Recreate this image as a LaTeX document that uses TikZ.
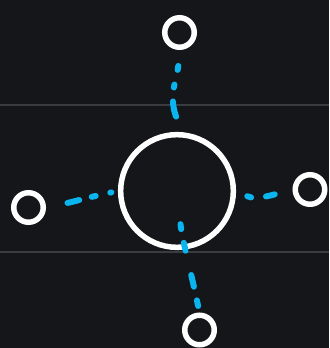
\documentclass[tikz,border=0pt]{standalone}
\usetikzlibrary{arrows.meta}
\usetikzlibrary{positioning}

\definecolor{bgdark}{RGB}{20,22,25}
\definecolor{rulegray}{RGB}{58,60,63}
\definecolor{linkblue}{RGB}{10,180,238}

\begin{document}
\begin{tikzpicture}[
    x=0.03cm, y=-0.03cm,
    hub/.style={circle, draw=white, line width=0.165cm, minimum size=3.38cm, inner sep=0pt},
    leaf/.style={circle, draw=white, line width=0.165cm, minimum size=0.885cm, inner sep=0pt},
    rule/.style={draw=rulegray, line width=0.06cm},
    link/.style={draw=linkblue, line width=0.18cm, line cap=round}
]

% Background
\fill[bgdark] (0,0) rectangle (329,348);
\useasboundingbox (0,0) rectangle (329,348);
\coordinate (ruleAL) at (0,105);
\coordinate (ruleAR) at (329,105);
\coordinate (ruleBL) at (0,252);
\coordinate (ruleBR) at (329,252);
\draw[rule] (ruleAL) -- (ruleAR);
\draw[rule] (ruleBL) -- (ruleBR);

% Nodes
\node (center) [hub] at (177,191) {};
\node (top) [leaf] at (179.5,32.5) {};
\node (left) [leaf] at (28.5,207.5) {};
\node (right) [leaf] at (310,189.5) {};
\node (bottom) [leaf] at (199.5,330) {};

% Links
\draw [link, shorten <=0.48cm, shorten >=0.5cm,
       dash pattern=on 0.12cm off 0.45cm on 0.09cm off 0.42cm on 0.9cm]
  (top.south) .. controls +(-2,26) and +(-14,-36) .. (center.85);
\draw [link, shorten <=0.66cm, shorten >=0.2cm,
       dash pattern=on 0.36cm off 0.39cm on 0.12cm off 0.45cm on 0.3cm]
  (left.east) to[out=12, in=192] (center.west);
\draw [link, shorten <=0.37cm, shorten >=0.31cm,
       dash pattern=on 0.12cm off 0.45cm on 0.27cm off 0.27cm on 0.3cm]
  (center.east) to[out=-25, in=195] (right.west);
\draw [link, shorten <=1.0cm, shorten >=0.2cm,
       dash pattern=on 0.15cm off 0.42cm on 0.24cm off 0.75cm on 0.36cm off 0.42cm on 0.3cm]
  (center.center) to[out=-84, in=102] (bottom.north);

\end{tikzpicture}
\end{document}
